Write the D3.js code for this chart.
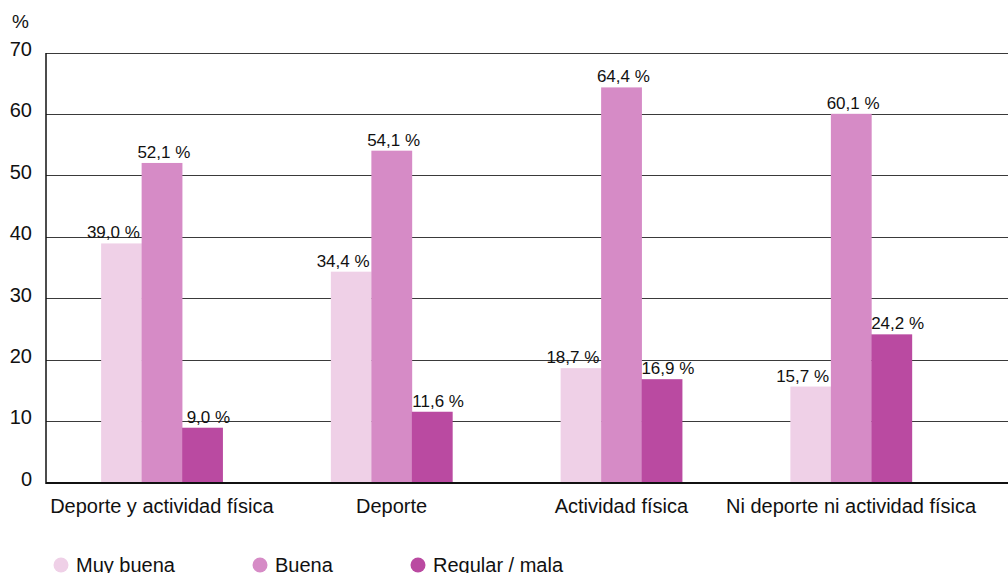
<!DOCTYPE html>
<html>
<head>
<meta charset="utf-8">
<script src="https://cdn.jsdelivr.net/npm/d3@7/dist/d3.min.js"></script>
<style>
  html, body { margin: 0; padding: 0; background: #fff; }
  svg { display: block; font-family: "Liberation Sans", Arial, Helvetica, sans-serif; }
</style>
</head>
<body>
<svg id="chart" width="1008" height="573"></svg>
<script>
// Categories and series (percentages)
const categories = ["Deporte y actividad física", "Deporte", "Actividad física", "Ni deporte ni actividad física"];
const seriesNames = ["Muy buena", "Buena", "Regular / mala"];
const muyBuena = [39.0, 34.4, 18.7, 15.7];
const buena = [52.1, 54.1, 64.4, 60.1];
const regularMala = [9.0, 11.6, 16.9, 24.2];
const yTicks = [0, 10, 20, 30, 40, 50, 60, 70];

const seriesValues = [muyBuena, buena, regularMala];
const seriesColors = ["#efd0e7", "#d68bc6", "#ba4aa1"];
// horizontal nudge of the value labels, per series
const labelShift = [-8, 2, 6];

const svg = d3.select("#chart");
const plot = { left: 46, right: 1008, top: 53, bottom: 483 };

const y = d3.scaleLinear().domain([0, 70]).range([plot.bottom, plot.top]);
const x0 = d3.scaleBand().domain(categories).range([47, 966]).padding(0);
const x1 = d3.scaleBand().domain(seriesNames).range([0, 121.5]).padding(0);

const fmt = v => d3.format(".1f")(v).replace(".", ",") + " %";

// Gridlines
svg.append("g")
  .selectAll("line")
  .data(yTicks.filter(t => t > 0))
  .join("line")
  .attr("x1", plot.left).attr("x2", plot.right)
  .attr("y1", d => y(d)).attr("y2", d => y(d))
  .attr("stroke", "#3a3a3a").attr("stroke-width", 1)
  .attr("shape-rendering", "crispEdges");

// Y axis labels
const yAxis = d3.axisLeft(y).tickValues(yTicks).tickSize(0).tickPadding(14);
const gy = svg.append("g").attr("transform", `translate(${plot.left},0)`).call(yAxis);
gy.select(".domain").remove();
gy.selectAll("text")
  .attr("font-size", 20)
  .attr("dy", "0.12em")
  .attr("fill", "#111")
  .attr("font-family", "Liberation Sans, Arial, sans-serif");

svg.append("text").attr("x", 12).attr("y", 28).attr("font-size", 19).attr("fill", "#111").text("%");

// Bars
const groups = svg.append("g")
  .selectAll("g")
  .data(categories)
  .join("g")
  .attr("transform", c => `translate(${x0(c) + (x0.bandwidth() - x1.range()[1]) / 2},0)`);

const cells = (c, i) => seriesNames.map((s, k) => ({ s, k, v: seriesValues[k][i] }));

groups.selectAll("rect")
  .data(cells)
  .join("rect")
  .attr("x", d => x1(d.s))
  .attr("width", x1.bandwidth() + 0.3)
  .attr("y", d => y(d.v))
  .attr("height", d => y(0) - y(d.v))
  .attr("fill", d => seriesColors[d.k]);

groups.selectAll("text")
  .data(cells)
  .join("text")
  .attr("x", d => x1(d.s) + x1.bandwidth() / 2 + labelShift[d.k])
  .attr("y", d => y(d.v) - 5)
  .attr("text-anchor", "middle")
  .attr("font-size", 17)
  .attr("fill", "#111")
  .text(d => fmt(d.v));

// Axis lines
svg.append("line")
  .attr("x1", plot.left).attr("x2", plot.left)
  .attr("y1", plot.top).attr("y2", plot.bottom + 1)
  .attr("stroke", "#111").attr("stroke-width", 1.5);
svg.append("line")
  .attr("x1", plot.left).attr("x2", plot.right)
  .attr("y1", plot.bottom).attr("y2", plot.bottom)
  .attr("stroke", "#111").attr("stroke-width", 2);

// Category labels
svg.append("g")
  .selectAll("text")
  .data(categories)
  .join("text")
  .attr("x", c => x0(c) + x0.bandwidth() / 2)
  .attr("y", 513)
  .attr("text-anchor", "middle")
  .attr("font-size", 20)
  .attr("fill", "#111")
  .text(c => c);

// Legend
const legendX = [61, 260, 418];
const legend = svg.append("g")
  .selectAll("g")
  .data(seriesNames)
  .join("g")
  .attr("transform", (s, i) => `translate(${legendX[i]},565)`);
legend.append("circle").attr("r", 7.5).attr("fill", (s, i) => seriesColors[i]);
legend.append("text")
  .attr("x", 15).attr("y", 7)
  .attr("font-size", 20).attr("fill", "#111")
  .text(s => s);
</script>
</body>
</html>
